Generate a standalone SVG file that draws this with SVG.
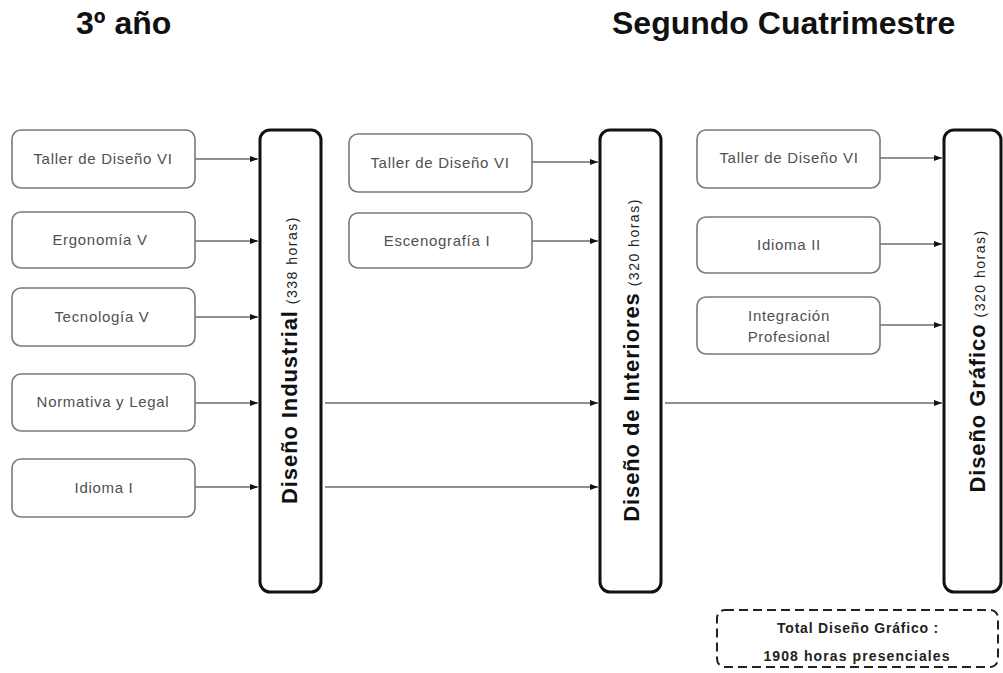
<svg xmlns="http://www.w3.org/2000/svg" width="1003" height="673" viewBox="0 0 1003 673">
<style>
.title{font-family:"Liberation Sans",Arial,sans-serif;font-weight:bold;font-size:32px;fill:#111}
.box{fill:#fff;stroke:#7a7a7a;stroke-width:1.6}
.lbl{font-family:"Liberation Sans",Arial,sans-serif;font-size:15px;fill:#505050;text-anchor:middle;letter-spacing:0.7px}
.bar{fill:#fff;stroke:#111;stroke-width:3}
.bt{font-family:"Liberation Sans",Arial,sans-serif;fill:#111;text-anchor:middle}
.bb{font-weight:bold;font-size:22px;letter-spacing:0.9px}
.bs{font-size:14px;letter-spacing:1.5px;fill:#222}
.conn{stroke:#222;stroke-width:1.2;fill:none;marker-end:url(#ah)}
.tot{fill:#fff;stroke:#222;stroke-width:2;stroke-dasharray:9 5}
.tt{font-family:"Liberation Sans",Arial,sans-serif;font-weight:bold;font-size:14px;fill:#222;text-anchor:middle}
</style>
<defs>
<marker id="ah" markerWidth="8" markerHeight="6" refX="8" refY="3" orient="auto" markerUnits="userSpaceOnUse">
<path d="M0,0 L8,3 L0,6 Z" fill="#111"/>
</marker>
</defs>
<rect width="1003" height="673" fill="#fff"/>
<g id="titles">
<text class="title" x="76" y="34">3º año</text>
<text class="title" x="612" y="34">Segundo Cuatrimestre</text>
</g>
<g id="connectors">
<line class="conn" x1="195" y1="159" x2="258" y2="159"/>
<line class="conn" x1="195" y1="241" x2="258" y2="241"/>
<line class="conn" x1="195" y1="317" x2="258" y2="317"/>
<line class="conn" x1="195" y1="403" x2="258" y2="403"/>
<line class="conn" x1="195" y1="487" x2="258" y2="487"/>
<line class="conn" x1="325" y1="403" x2="598" y2="403"/>
<line class="conn" x1="325" y1="487" x2="598" y2="487"/>
<line class="conn" x1="532" y1="162" x2="598" y2="162"/>
<line class="conn" x1="532" y1="241" x2="598" y2="241"/>
<line class="conn" x1="665" y1="403" x2="942" y2="403"/>
<line class="conn" x1="880" y1="158" x2="942" y2="158"/>
<line class="conn" x1="880" y1="244" x2="942" y2="244"/>
<line class="conn" x1="880" y1="325" x2="942" y2="325"/>
</g>
<g id="n-taller1"><rect class="box" x="12" y="130" width="183" height="58" rx="9"/><text class="lbl" x="103" y="164">Taller de Diseño VI</text></g>
<g id="n-ergonomia"><rect class="box" x="12" y="212" width="183" height="56" rx="9"/><text class="lbl" x="100" y="245">Ergonomía V</text></g>
<g id="n-tecnologia"><rect class="box" x="12" y="288" width="183" height="58" rx="9"/><text class="lbl" x="102" y="322">Tecnología V</text></g>
<g id="n-normativa"><rect class="box" x="12" y="374" width="183" height="57" rx="9"/><text class="lbl" x="103" y="407">Normativa y Legal</text></g>
<g id="n-idioma1"><rect class="box" x="12" y="459" width="183" height="58" rx="9"/><text class="lbl" x="104" y="493">Idioma I</text></g>
<g id="n-industrial"><rect class="bar" x="260" y="130" width="61" height="462" rx="10"/>
<text class="bt" transform="translate(297,360) rotate(-90)"><tspan class="bb">Diseño Industrial</tspan><tspan class="bs" dx="6">(338 horas)</tspan></text></g>
<g id="n-taller2"><rect class="box" x="349" y="134" width="183" height="58" rx="9"/><text class="lbl" x="440" y="168">Taller de Diseño VI</text></g>
<g id="n-escenografia"><rect class="box" x="349" y="213" width="183" height="55" rx="9"/><text class="lbl" x="437" y="246">Escenografía I</text></g>
<g id="n-interiores"><rect class="bar" x="600" y="130" width="61" height="462" rx="10"/>
<text class="bt" transform="translate(639,360) rotate(-90)"><tspan class="bb">Diseño de Interiores</tspan><tspan class="bs" dx="6">(320 horas)</tspan></text></g>
<g id="n-taller3"><rect class="box" x="697" y="130" width="183" height="58" rx="9"/><text class="lbl" x="789" y="163">Taller de Diseño VI</text></g>
<g id="n-idioma2"><rect class="box" x="697" y="217" width="183" height="56" rx="9"/><text class="lbl" x="789" y="250">Idioma II</text></g>
<g id="n-integracion"><rect class="box" x="697" y="297" width="183" height="57" rx="9"/><text class="lbl" x="789" y="321">Integración</text><text class="lbl" x="789" y="342">Profesional</text></g>
<g id="n-grafico"><rect class="bar" x="944" y="130" width="57" height="462" rx="10"/>
<text class="bt" transform="translate(985,361) rotate(-90)"><tspan class="bb">Diseño Gráfico</tspan><tspan class="bs" dx="6">(320 horas)</tspan></text></g>
<g id="n-total"><rect class="tot" x="717" y="610" width="281" height="57" rx="8"/>
<text class="tt" x="858" y="633" style="letter-spacing:0.8px">Total Diseño Gráfico :</text>
<text class="tt" x="857" y="661" style="letter-spacing:1.1px">1908 horas presenciales</text></g>
</svg>
